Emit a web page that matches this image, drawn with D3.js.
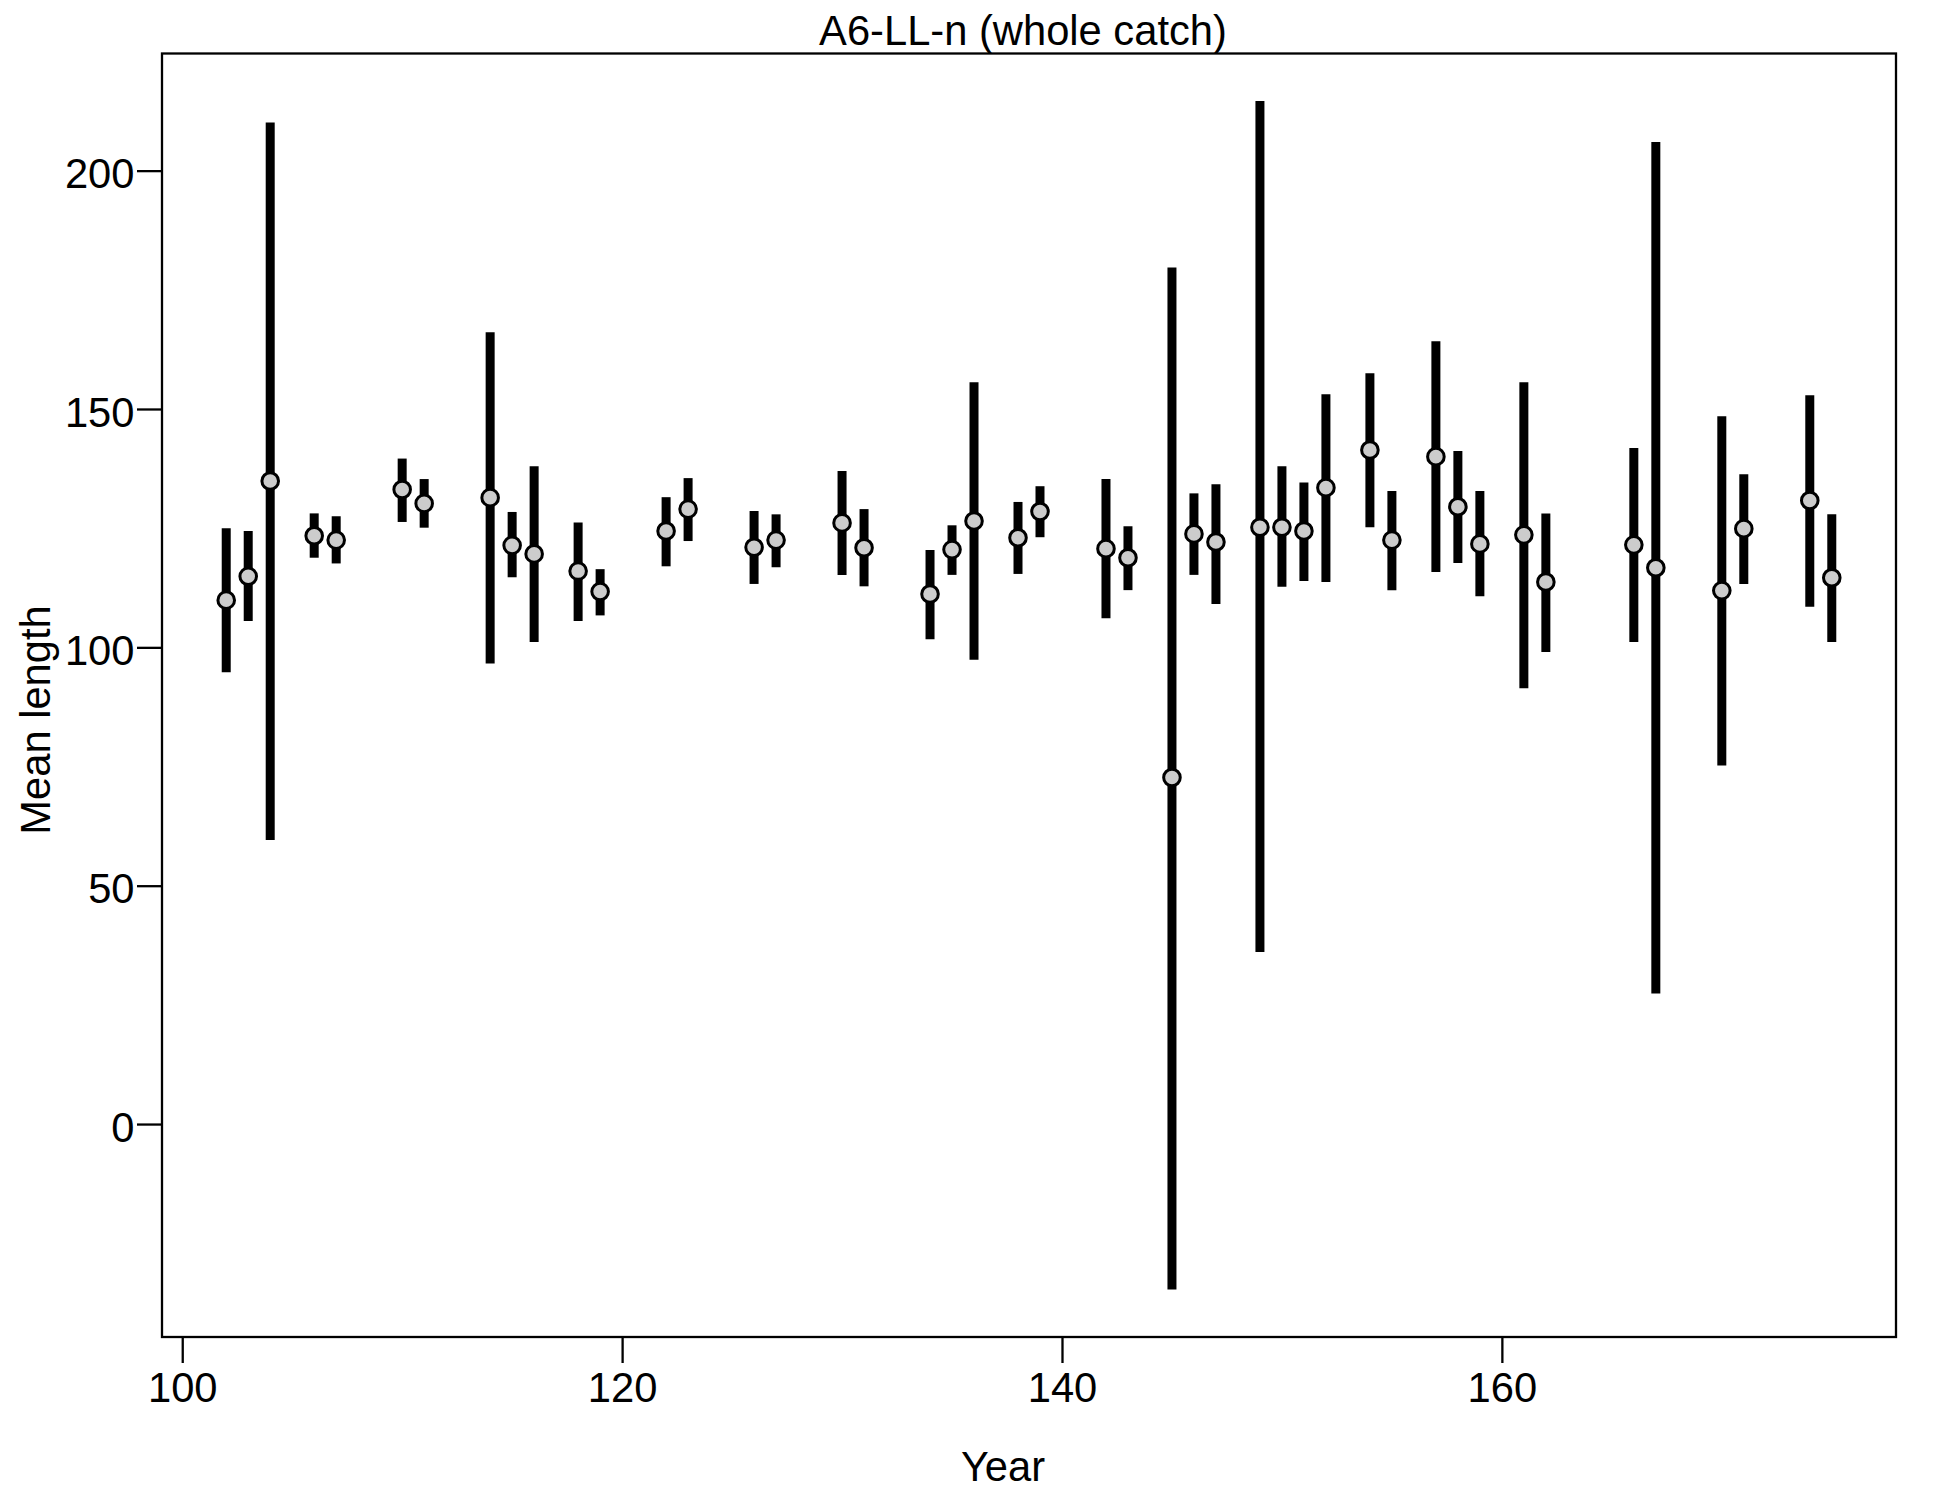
<!DOCTYPE html>
<html>
<head>
<meta charset="utf-8">
<script src="https://cdn.jsdelivr.net/npm/d3@7"></script>
<style>
  html, body { margin: 0; padding: 0; background: #ffffff; }
  text { font-family: "Liberation Sans", Arial, sans-serif; fill: #000; }
</style>
</head>
<body>
<svg id="chart" width="1950" height="1500"></svg>
<script>
const years = [102,103,104,106,107,110,111,114,115,116,118,119,122,123,126,127,130,131,134,135,136,138,139,142,143,145,146,147,149,150,151,152,154,155,157,158,159,161,162,166,167,170,171,174,175];
const means = [109.9,114.9,134.9,123.4,122.5,133.1,130.2,131.4,121.4,119.6,116.0,111.7,124.4,129.0,121.0,122.5,126.1,120.9,111.2,120.5,126.5,123.0,128.5,120.7,118.8,72.7,123.8,122.1,125.2,125.2,124.4,133.5,141.4,122.5,140.0,129.5,121.7,123.6,113.7,121.5,116.7,111.9,124.9,130.8,114.6];
const lower = [94.8,105.5,59.6,118.8,117.6,126.3,125.1,96.6,114.7,101.1,105.5,106.7,117.0,122.3,113.3,116.8,115.2,112.8,101.7,115.2,97.4,115.4,123.1,106.1,112.0,-34.7,115.2,109.1,36.1,112.7,113.9,113.7,125.2,112.0,115.8,117.7,110.7,91.4,99.0,101.1,27.4,75.2,113.3,108.5,101.1];
const upper = [125.0,124.4,210.1,128.1,127.5,139.6,135.3,166.1,128.4,138.0,126.2,116.4,131.5,135.5,128.6,127.9,137.0,129.0,120.4,125.6,155.6,130.5,133.8,135.3,125.4,179.7,132.3,134.2,214.6,138.0,134.6,153.1,157.5,132.8,164.2,141.2,132.8,155.6,128.1,141.8,206.0,148.5,136.3,152.9,127.9];
const xTicks = [100,120,140,160];
const yTicks = [0,50,100,150,200];
const titleText = "A6-LL-n (whole catch)";
const xLabel = "Year";
const yLabel = "Mean length";

const data = years.map((y, i) => ({ year: y, mean: means[i], lo: lower[i], hi: upper[i] }));

// R-style 4% axis extension
const xr = d3.extent(years);
const xPad = (xr[1] - xr[0]) * 0.04;
const yr = [d3.min(lower), d3.max(upper)];
const yPad = (yr[1] - yr[0]) * 0.04;

const L = 162, R = 1896, T = 53.5, B = 1337;
const FS = 41.7;

const x = d3.scaleLinear().domain([xr[0] - xPad, xr[1] + xPad]).range([L, R]);
const y = d3.scaleLinear().domain([yr[0] - yPad, yr[1] + yPad]).range([B, T]);

const svg = d3.select("#chart");

// bars
svg.append("g").selectAll("line").data(data).join("line")
  .attr("x1", d => x(d.year)).attr("x2", d => x(d.year))
  .attr("y1", d => y(d.lo)).attr("y2", d => y(d.hi))
  .attr("stroke", "#000").attr("stroke-width", 9);

// points
svg.append("g").selectAll("circle").data(data).join("circle")
  .attr("cx", d => x(d.year)).attr("cy", d => y(d.mean))
  .attr("r", 8.3)
  .attr("fill", "#cccccc").attr("stroke", "#000").attr("stroke-width", 3);

// box
svg.append("rect")
  .attr("x", L).attr("y", T).attr("width", R - L).attr("height", B - T)
  .attr("fill", "none").attr("stroke", "#000").attr("stroke-width", 2.3);

// x axis
const gx = svg.append("g").attr("transform", `translate(0,${B})`)
  .call(d3.axisBottom(x).tickValues(xTicks).tickSize(26).tickFormat(d3.format("d")));
gx.select(".domain").remove();
gx.selectAll(".tick line").attr("stroke", "#000").attr("stroke-width", 2.3);
gx.selectAll(".tick text").attr("y", 64.7).attr("dy", 0)
  .style("font-size", FS + "px").style("font-family", '"Liberation Sans", Arial, sans-serif').attr("fill", "#000");

// y axis
const gy = svg.append("g").attr("transform", `translate(${L},0)`)
  .call(d3.axisLeft(y).tickValues(yTicks).tickSize(25).tickFormat(d3.format("d")));
gy.select(".domain").remove();
gy.selectAll(".tick line").attr("stroke", "#000").attr("stroke-width", 2.3);
gy.selectAll(".tick text").attr("x", -27.5).attr("dy", "0.41em")
  .style("font-size", FS + "px").style("font-family", '"Liberation Sans", Arial, sans-serif').attr("fill", "#000");

// title
svg.append("text").attr("x", 1023).attr("y", 45).attr("text-anchor", "middle")
  .style("font-size", FS + "px").text(titleText);

// x label
svg.append("text").attr("x", 1003).attr("y", 1481).attr("text-anchor", "middle")
  .style("font-size", FS + "px").text(xLabel);

// y label
svg.append("text").attr("transform", "translate(50,720) rotate(-90)").attr("text-anchor", "middle")
  .style("font-size", FS + "px").text(yLabel);
</script>
</body>
</html>
